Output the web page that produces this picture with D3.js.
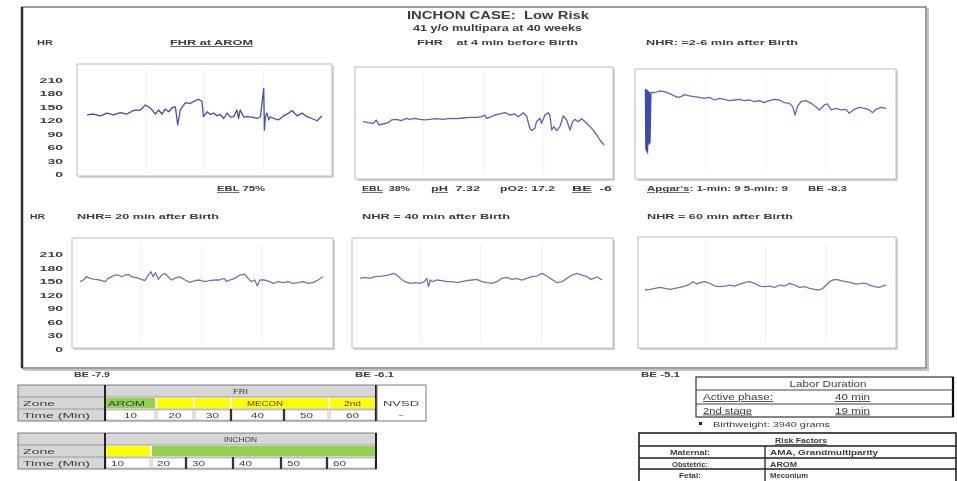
<!DOCTYPE html>
<html>
<head>
<meta charset="utf-8">
<script src="https://cdn.jsdelivr.net/npm/d3@7"></script>
<style>
body { margin: 0; background: #fff; }
svg { display: block; }
text { font-family: "Liberation Sans", Arial, sans-serif; fill: #3c3c3c; white-space: pre; }
</style>
</head>
<body>
<div id="chart"></div>
<script>
// ---- data ----
var hrTicks = [0, 30, 60, 90, 120, 150, 180, 210];

// [time index 0-100, heart rate bpm]
var fhrArom = [[0,132],[2.8,134],[5.7,130],[8.5,136],[11.3,132],[14.2,137],[17,134],[19.9,142],[22.7,143],[24.8,154],[27,147],[29.1,134],[30.5,143],[31.9,134],[33.3,145],[34.8,139],[36.2,148],[37.6,150],[38.6,110],[39.7,143],[41.8,159],[44,158],[46.1,164],[47.5,167],[48.9,162],[49.6,128],[51.1,139],[52.5,133],[53.9,136],[55.3,130],[56.7,133],[58.2,124],[59.6,136],[61,127],[62.4,128],[63.8,143],[64.5,124],[65.2,143],[66.7,127],[68.1,128],[70.2,127],[72.3,124],[73.8,128],[75.2,191],[75.5,98],[75.9,128],[76.6,136],[77.3,121],[78,128],[79.4,124],[81.6,121],[83.7,130],[85.8,136],[87.2,142],[89.4,130],[91.5,136],[93.6,128],[95.7,124],[97.9,119],[100,130]];

var fhrBeforeBirth = [[0,123.6],[2.1,121.4],[4.2,119.9],[5.5,127.4],[6.6,116.2],[8.3,118.4],[10.4,121.4],[11.8,127.4],[13.9,128.8],[15.9,125.9],[18,131.1],[19.4,128.8],[21.5,131.1],[23.5,128.8],[25.6,127.4],[27.7,128.8],[30.5,130.3],[33.2,128.8],[36,131.1],[38.8,130.3],[41.6,131.8],[44.3,133.3],[47.1,133.3],[49.2,134.8],[50.6,138.5],[51.2,131.1],[52.6,133.3],[54.7,138.5],[56.8,140.8],[58.9,143.7],[60.9,138.5],[63,140.8],[64.4,134.8],[66.5,143.7],[67.9,136.3],[69,112.5],[69.9,103.5],[71.3,108.7],[72,123.6],[73.4,131.1],[74.1,119.9],[75.5,138.5],[76.9,143.7],[77.6,136.3],[78.3,105],[79.2,112.5],[80.3,103.5],[81.7,112.5],[83.1,136.3],[84.5,127.4],[85.9,105],[87,123.6],[87.9,128.8],[89.3,123.6],[90.7,130.3],[92.1,123.6],[93.5,116.2],[94.9,108.7],[97,93.8],[98.3,82.7],[100,71.5]];

var nhr2to6 = [[0,193.7],[0.2,60],[0.4,58.1],[0.6,190],[0.8,70],[1,188.5],[1.4,73],[1.8,184.7],[2.1,187],[3.5,186],[5.6,189.9],[7.6,188.5],[9.7,184.7],[11.8,178.8],[13.2,175.8],[14.6,177.3],[16,181.8],[18.1,178.8],[20.1,177.3],[22.2,175.8],[24.3,173.6],[26.4,175.8],[28.5,169.8],[30.6,173.6],[32.6,171.3],[34.7,168.3],[36.8,169.8],[38.9,171.3],[41,168.3],[43.1,169.8],[45.1,166.1],[47.2,168.3],[49.3,163.9],[51.4,168.3],[53.5,171.3],[55.6,169.8],[57.6,163.9],[59.7,162.4],[61.1,154.9],[62.1,136.3],[63.2,156.4],[64.6,166.1],[66.7,168.3],[68.8,162.4],[70.8,154.9],[72.2,147.5],[74.3,158.7],[75.7,160.9],[77.1,147.5],[79.2,151.2],[81.3,147.5],[83.3,149],[84.7,140],[86.8,149],[88.9,153.5],[91,151.2],[93.1,147.5],[94.4,141.5],[95.8,149],[97.9,153.5],[100,151.2]];

var nhr20 = [[0,148.8],[1.4,152.5],[2.7,159.8],[4.1,156.2],[6.2,154],[8.2,152.5],[10.3,148.8],[11.6,156.2],[13,159.8],[14.4,163.5],[15.8,163.5],[17.1,159.8],[18.5,163.5],[19.9,165],[21.2,159.8],[23.3,157.6],[25.3,154],[26.7,151],[28.1,163.5],[29.2,170.9],[30.1,159.8],[31.1,168.7],[32.2,154],[33.6,163.5],[34.9,167.2],[36.3,159.8],[37.7,152.5],[39,156.2],[41.1,159.8],[43.2,152.5],[45.2,147.3],[47.3,151],[49.3,152.5],[51.4,148.8],[53.4,151],[55.5,152.5],[57.5,152.5],[59.3,156.2],[60.3,148.8],[61.6,152.5],[63.7,156.2],[65.8,163.5],[67.8,165.7],[69.2,156.2],[70.5,148.8],[71.9,152.5],[73,139.2],[74,152.5],[76,152.5],[78.1,148.8],[79.5,145.1],[81.5,148.8],[83.6,146.6],[85.6,148.8],[87.7,145.1],[89.7,146.6],[91.8,148.8],[93.8,145.1],[95.9,146.6],[97.9,152.5],[100,159.8]];

var nhr40 = [[0,156.2],[2.1,158.4],[4.1,156.2],[6.2,159.8],[9,161.3],[11.7,163.5],[13.8,167.2],[15.2,163.5],[16.6,156.2],[18.6,148.8],[20.7,145.1],[22.8,146.6],[24.8,145.1],[26.6,148.8],[27.6,156.2],[28.3,137.7],[29,152.5],[29.9,148.8],[31.7,152.5],[33.8,151],[35.9,148.8],[37.9,148.8],[40,146.6],[42.1,148.8],[44.1,151],[46.2,152.5],[48.3,154],[50.3,148.8],[52.4,146.6],[54.5,145.1],[56.6,148.8],[58.6,156.2],[60.7,158.4],[62.8,154],[64.8,156.2],[66.9,152.5],[69,156.2],[71,159.8],[73.1,161.3],[75.2,167.2],[77.2,161.3],[79.3,154],[81.4,146.6],[83.4,148.8],[85.5,156.2],[87.6,163.5],[89.7,167.2],[91.7,163.5],[93.8,159.8],[95.2,154],[96.6,156.2],[97.9,159.8],[100,152.5]];

var nhr60 = [[0,130.4],[2.1,131.8],[4.1,134.1],[6.2,136.3],[8.3,134.1],[10.3,131.8],[12.4,134.1],[14.5,136.3],[16.6,139.2],[18.6,143.6],[20,148.8],[21.4,143.6],[22.8,146.6],[24.8,148.8],[26.9,145.1],[29,139.2],[31,137.7],[33.1,139.2],[35.2,141.4],[37.2,139.2],[39.3,143.6],[41.4,146.6],[43.4,148.8],[45.5,145.1],[47.6,139.2],[49.7,137.7],[51.7,139.2],[53.8,136.3],[55.9,141.4],[57.9,139.2],[60,145.1],[62.1,141.4],[64.1,136.3],[66.2,137.7],[68.3,134.1],[70.3,131.8],[72.4,130.4],[73.8,134.1],[75.2,141.4],[76.6,148.8],[77.9,152.5],[79.3,154],[81.4,151],[83.4,148.8],[85.5,146.6],[87.6,143.6],[89.7,145.1],[91.7,145.1],[93.1,141.4],[95.2,137.7],[97.2,136.3],[98.6,139.2],[100,141.4]];

// tables
var timeLabels = ["10", "20", "30", "40", "50", "60"];
var friZoneLabels = ["AROM", "", "", "MECON", "2nd"];
var friZoneSpans = [1, 1, 1, 2, 1];
var friZoneCats = ["green", "yellow", "yellow", "yellow", "yellow"];
var inchonZoneSpans = [1, 5];
var inchonZoneCats = ["yellow", "green"];
var laborRows = [["Active phase:", "40 min"], ["2nd stage", "19 min"]];
var birthweight = "Birthweight: 3940 grams";
var riskRows = [["Maternal:", "AMA, Grandmultiparity"], ["Obstetric:", "AROM"], ["Fetal:", "Meconium"]];

// ---- drawing ----
var W = 957, H = 481;
var svg = d3.select("#chart").append("svg").attr("width", W).attr("height", H);
var defs = svg.append("defs");
defs.append("filter").attr("id", "soft").append("feGaussianBlur").attr("stdDeviation", 0.45);
var g = svg.append("g").attr("filter", "url(#soft)");

var zoneColor = d3.scaleOrdinal().domain(["green", "yellow"]).range(["#92d050", "#ffff00"]);

// text helper: s is a string or list of [text, underlined]
function label(x, y, s, o) {
	o = o || {};
	var t = g.append("text").attr("x", x).attr("y", y)
		.attr("text-anchor", o.anchor || "start")
		.style("font-size", (o.size || 8) + "px")
		.style("font-weight", o.weight || "bold");
	var parts = typeof s === "string" ? [[s, o.u]] : s;
	parts.forEach(function(p) {
		t.append("tspan").text(p[0]).style("text-decoration", p[1] ? "underline" : null);
	});
	if (o.len) t.attr("textLength", o.len).attr("lengthAdjust", "spacingAndGlyphs");
	return t;
}

// outer frame
g.append("rect").attr("x", 24).attr("y", 9).attr("width", 904).attr("height", 361).style("fill", "none").style("stroke", "#c4c4c4").style("stroke-width", 2);
g.append("rect").attr("x", 22).attr("y", 7).attr("width", 904).attr("height", 361).style("fill", "#fff").style("stroke", "#6a6a6a").style("stroke-width", 1.3);
g.append("line").attr("x1", 22).attr("x2", 22).attr("y1", 7).attr("y2", 368).style("stroke", "#2e2e2e").style("stroke-width", 2.5);

// headings
label(407, 19, "INCHON CASE:  Low Risk", {size: 11, len: 182});
label(413, 31, "41 y/o multipara at 40 weeks", {size: 8.5, len: 169});
label(37, 45, "HR", {size: 7.5, len: 16});
label(170, 45, "FHR at AROM", {size: 8, len: 83, u: true});
label(417, 45, "FHR    at 4 min before Birth", {size: 8, len: 161});
label(646, 45, "NHR: =2-6 min after Birth", {size: 8, len: 152});

label(30, 219, "HR", {size: 7.5, len: 15});
label(77, 219, "NHR= 20 min after Birth", {size: 8, len: 142});
label(362, 219, "NHR = 40 min after Birth", {size: 8, len: 148});
label(647, 219, "NHR = 60 min after Birth", {size: 8, len: 146});

// panels
var panels = [
	{data: fhrArom,        x0: 77,  x1: 332, y0: 64,  y1: 176, trace: [87, 322],  yr: [174, 80],  color: "#3f4fb3", axis: true},
	{data: fhrBeforeBirth, x0: 355, x1: 613, y0: 67,  y1: 179, trace: [363, 604], yr: [177, 83],  color: "#5563b8"},
	{data: nhr2to6,        x0: 635, x1: 896, y0: 69,  y1: 179, trace: [646, 886], yr: [176, 82],  color: "#5a68bd"},
	{data: nhr20,          x0: 72,  x1: 333, y0: 238, y1: 348, trace: [80, 323],  yr: [349, 254], color: "#6d74b4", axis: true},
	{data: nhr40,          x0: 352, x1: 613, y0: 238, y1: 348, trace: [360, 602], yr: [349, 254], color: "#6d74b4"},
	{data: nhr60,          x0: 638, x1: 896, y0: 237, y1: 348, trace: [645, 886], yr: [349, 254], color: "#6d74b4"}
];

panels.forEach(function(p) {
	var x = d3.scaleLinear().domain([0, 100]).range(p.trace);
	var y = d3.scaleLinear().domain([0, 210]).range(p.yr);

	// shadow and box
	g.append("rect").attr("x", p.x0 + 2).attr("y", p.y0 + 2).attr("width", p.x1 - p.x0).attr("height", p.y1 - p.y0)
		.style("fill", "#d2d2d2");
	g.append("rect").attr("x", p.x0).attr("y", p.y0).attr("width", p.x1 - p.x0).attr("height", p.y1 - p.y0)
		.style("fill", "#fff").style("stroke", "#bcbcbc").style("stroke-width", 1);

	// faint grid
	g.selectAll(null).data([25, 50, 75]).enter().append("line")
		.attr("x1", function(d) { return x(d); }).attr("x2", function(d) { return x(d); })
		.attr("y1", p.y0 + 6).attr("y2", p.y1 - 6)
		.style("stroke", "#efefef").style("stroke-width", 1);

	g.append("path").datum(p.data)
		.attr("d", d3.line().x(function(d) { return x(d[0]); }).y(function(d) { return y(d[1]); }))
		.style("fill", "none")
		.style("stroke", p.color)
		.style("stroke-width", 1.3)
		.style("stroke-linejoin", "round");

	if (p.axis) {
		var ax = g.append("g").attr("transform", "translate(66,0)")
			.call(d3.axisLeft(y).tickValues(hrTicks).tickSize(0).tickPadding(3));
		ax.select(".domain").remove();
		ax.selectAll("text")
			.style("font-family", "'Liberation Sans', Arial, sans-serif")
			.style("font-size", "8px").style("font-weight", "bold").style("fill", "#3c3c3c")
			.attr("textLength", function(d) { return String(d).length * 7.8; })
			.attr("lengthAdjust", "spacingAndGlyphs");
	}
});

// the vertical burst at the start of the 2-6 min trace is drawn thick in the source
(function() {
	var p = panels[2];
	var x = d3.scaleLinear().domain([0, 100]).range(p.trace);
	var y = d3.scaleLinear().domain([0, 210]).range(p.yr);
	g.append("path").datum(p.data.slice(0, 8))
		.attr("d", d3.line().x(function(d) { return x(d[0]); }).y(function(d) { return y(d[1]); }))
		.style("fill", "none").style("stroke", "#3c4cb0").style("stroke-width", 2.5);
})();

// values under panels
label(217, 191, [["EBL", true], [" 75%", false]], {size: 7.5, len: 48});
label(362, 191, [["EBL", true], ["  38%", false]], {size: 7.5, len: 48});
label(431, 191, [["pH", true], ["  7.32", false]], {size: 7.5, len: 49});
label(500, 191, "pO2: 17.2", {size: 7.5, len: 55});
label(572, 191, [["BE", true], ["  -6", false]], {size: 7.5, len: 40});
label(647, 191, [["Apgar's", true], [": 1-min: 9 5-min: 9", false]], {size: 7.5, len: 141});
label(808, 191, "BE -8.3", {size: 7.5, len: 39});

label(74, 377, "BE -7.9", {size: 7.5, len: 36});
label(355, 377, "BE -6.1", {size: 7.5, len: 39});
label(641, 377, "BE -5.1", {size: 7.5, len: 39});

// ---- zone tables ----
function cellText(x, y, s, len, anchor) {
	return label(x, y, s, {size: 8, weight: "normal", anchor: anchor || "start", len: len});
}

function zoneTable(top, title, titleLen, cols, spans, cats, timeAnchor, thick) {
	var rows = [top, top + 12, top + 24, top + 36];
	var left = 18, labW = 87;
	var x0 = cols[0], x1 = cols[cols.length - 1];
	// label column and header (grey)
	g.append("rect").attr("x", left).attr("y", rows[0]).attr("width", x1 - left).attr("height", 12).style("fill", "#d6d6d6");
	g.append("rect").attr("x", left).attr("y", rows[1]).attr("width", labW).attr("height", 24).style("fill", "#d6d6d6");
	cellText((x0 + x1) / 2, rows[0] + 9, title, titleLen, "middle");
	cellText(23, rows[1] + 9, "Zone", 32);
	cellText(23, rows[2] + 9, "Time (Min)", 67);

	// zone cells
	var c = 0;
	spans.forEach(function(s, i) {
		var a = cols[c], b = cols[c + s];
		g.append("rect").attr("x", a + 1).attr("y", rows[1] + 1).attr("width", b - a - 2).attr("height", 10)
			.style("fill", zoneColor(cats[i]));
		c += s;
	});

	// time cells
	timeLabels.forEach(function(t, i) {
		var a = cols[i], b = cols[i + 1];
		g.append("rect").attr("x", a + 1).attr("y", rows[2] + 1).attr("width", b - a - 2).attr("height", 10)
			.style("fill", "#fff").style("stroke", "#9a9a9a").style("stroke-width", 0.6);
		if (timeAnchor === "middle") cellText((a + b) / 2, rows[2] + 9, t, 13, "middle");
		else cellText(a + 6, rows[2] + 9, t, 13);
	});

	// grid
	g.append("rect").attr("x", left).attr("y", rows[0]).attr("width", x1 - left).attr("height", 36)
		.style("fill", "none").style("stroke", "#7a7a7a").style("stroke-width", 1);
	[rows[1], rows[2]].forEach(function(r) {
		g.append("line").attr("x1", left).attr("x2", x1).attr("y1", r).attr("y2", r).style("stroke", "#8a8a8a").style("stroke-width", 0.8);
	});
	g.append("line").attr("x1", x0).attr("x2", x0).attr("y1", rows[0]).attr("y2", rows[3]).style("stroke", "#222").style("stroke-width", 2);
	g.append("line").attr("x1", x1).attr("x2", x1).attr("y1", rows[0]).attr("y2", rows[3]).style("stroke", "#222").style("stroke-width", 2);
	thick.forEach(function(i) {
		g.append("line").attr("x1", cols[i]).attr("x2", cols[i]).attr("y1", rows[2]).attr("y2", rows[3]).style("stroke", "#222").style("stroke-width", 1.8);
	});
	return rows;
}

var friCols = [105, 156, 194, 231, 284, 329, 376];
var friRows = zoneTable(385, "FRI", 15, friCols, friZoneSpans, friZoneCats, "middle", [3, 4]);
// zone names (MECON sits left of its merged cell's centre in the source)
var zoneLens = {AROM: 37, MECON: 36, "2nd": 17};
var cz = 0;
friZoneSpans.forEach(function(s, i) {
	var a = friCols[cz], b = friCols[cz + s];
	var name = friZoneLabels[i];
	if (name) {
		if (i === 0) cellText(a + 3, friRows[1] + 9, name, zoneLens[name]);
		else if (s > 1) cellText(a + 16, friRows[1] + 9, name, zoneLens[name]);
		else cellText((a + b) / 2, friRows[1] + 9, name, zoneLens[name], "middle");
	}
	cz += s;
});
// NVSD cell
g.append("rect").attr("x", 377).attr("y", 385).attr("width", 49).attr("height", 36).style("fill", "#fff").style("stroke", "#7a7a7a").style("stroke-width", 1);
cellText(401, 406, "NVSD", 36, "middle");
label(401, 417, "–", {size: 8, weight: "normal", anchor: "middle"});

var inchonCols = [105, 151, 186, 233, 281, 327, 376];
zoneTable(433, "INCHON", 33, inchonCols, inchonZoneSpans, inchonZoneCats, "start", [2, 3, 4, 5]);

// ---- labor duration ----
var lx0 = 696, lx1 = 953;
g.append("rect").attr("x", lx0).attr("y", 377).attr("width", lx1 - lx0).attr("height", 40).style("fill", "#fff").style("stroke", "#333").style("stroke-width", 1.2);
g.append("line").attr("x1", lx1).attr("x2", lx1).attr("y1", 377).attr("y2", 417).style("stroke", "#111").style("stroke-width", 2.2);
[390, 404].forEach(function(r) {
	g.append("line").attr("x1", lx0).attr("x2", lx1).attr("y1", r).attr("y2", r).style("stroke", "#444").style("stroke-width", 1);
});
label(828, 387, "Labor Duration", {size: 8.5, weight: "normal", anchor: "middle", len: 77});
var laborLens = [[70, 35], [49, 35]];
laborRows.forEach(function(r, i) {
	var yy = 400 + i * 13.5;
	label(703, yy, r[0], {size: 8.5, weight: "normal", u: true, len: laborLens[i][0]});
	label(835, yy, r[1], {size: 8.5, weight: "normal", u: true, len: laborLens[i][1]});
});
g.append("rect").attr("x", 699).attr("y", 422).attr("width", 3).attr("height", 3).style("fill", "#222");
label(713, 427, birthweight, {size: 8, weight: "normal", len: 117});

// ---- risk factors ----
var rx0 = 639, rx1 = 956, rmid = 765;
var rRows = [433, 446, 458, 469, 481];
g.append("rect").attr("x", rx0).attr("y", 433).attr("width", rx1 - rx0).attr("height", 50).style("fill", "#fff").style("stroke", "#222").style("stroke-width", 1.6);
rRows.slice(1, 4).forEach(function(r) {
	g.append("line").attr("x1", rx0).attr("x2", rx1).attr("y1", r).attr("y2", r).style("stroke", "#222").style("stroke-width", 1.3);
});
g.append("line").attr("x1", rmid).attr("x2", rmid).attr("y1", 446).attr("y2", 481).style("stroke", "#222").style("stroke-width", 1.3);
label(801, 443, "Risk Factors", {size: 8, anchor: "middle", u: true, len: 52});
var riskLens = [[40, 108], [36, 27], [22, 38]];
riskRows.forEach(function(r, i) {
	var yy = rRows[i + 1] + 9;
	label(690, yy, r[0], {size: 7, anchor: "middle", len: riskLens[i][0]});
	label(770, yy, r[1], {size: 7, len: riskLens[i][1]});
});
</script>
</body>
</html>
